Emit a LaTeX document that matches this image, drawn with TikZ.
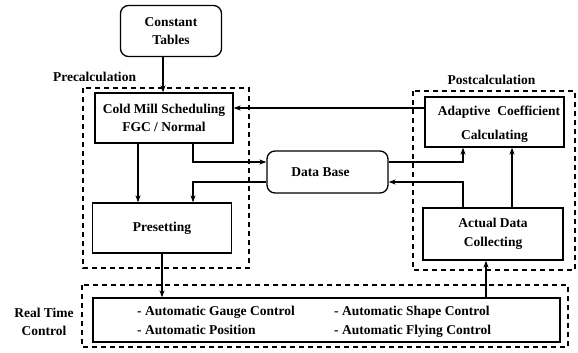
\documentclass[tikz,border=0pt]{standalone}
\usepackage{fontspec}
\setmainfont{Liberation Serif}
\usetikzlibrary{arrows.meta,calc}
\begin{document}
\begin{tikzpicture}[x=1pt,y=-1pt,
  txt/.style={font=\fontsize{13.5}{18.5}\selectfont\bfseries, inner sep=0pt},
  block/.style={txt, draw, line width=1.3pt, align=center},
  rblock/.style={block, rounded corners=8pt},
  group/.style={draw, line width=1.1pt, dash pattern=on 5pt off 4pt},
  arr/.style={line width=1.1pt, -{Stealth[length=7pt,width=5pt]}},
  lbl/.style={txt, align=center},
  item/.style={txt, anchor=west, text height=9.5pt, text depth=3pt}]
\useasboundingbox (0,0) rectangle (578,353);

% dashed groups
\draw[group] (83,88) rectangle (249,268);
\draw[group] (413,91) rectangle (575,270);
\draw[group] (82,285) rectangle (568,347);

% group labels
\node[lbl] (prelbl) at (94.5,77) {Precalculation};
\node[lbl] (postlbl) at (491.5,80) {Postcalculation};
\node[lbl] (rtlbl) at (44,322) {Real Time\\Control};

% blocks
\node[rblock, minimum width=101pt, minimum height=51pt] (const) at (171,31) {Constant\\Tables};
\node[block, minimum width=138pt, minimum height=50pt] (coldmill) at (164,118) {Cold Mill Scheduling\\FGC / Normal};
\node[block, minimum width=139pt, minimum height=50pt] (preset) at (162,228) {Presetting};
\node[rblock, minimum width=121pt, minimum height=42pt] (database) at (327.5,172) {\hspace*{-14pt}Data Base};
\node[block, minimum width=139pt, minimum height=50pt] (adaptive) at (494.5,122) {};
\node[txt] (adtext) at (499,112) {Adaptive\hspace{7pt}Coefficient};
\node[txt] (caltext) at (494.5,136) {Calculating};
\node[block, minimum width=140pt, minimum height=52pt] (actual) at (493,234) {Actual Data\\Collecting};
\node[block, minimum width=467pt, minimum height=44pt] (rtbox) at (326.5,320) {};
\node[item] (agc) at (137,312) {- Automatic Gauge Control};
\node[item] (apos) at (137,331) {- Automatic Position};
\node[item] (asc) at (334,312) {- Automatic Shape Control};
\node[item] (afc) at (334,331) {- Automatic Flying Control};

% routing positions
\coordinate (xc) at (163,0);
\coordinate (xa) at (138,0);
\coordinate (xb) at (193,0);
\coordinate (xd) at (463,0);
\coordinate (xe) at (512,0);
\coordinate (xf) at (486,0);
\coordinate (ya) at (0,162);
\coordinate (yb) at (0,182);
\coordinate (yc) at (0,108);

% connectors
\draw[arr] (const.south -| xc) -- (coldmill.north -| xc);
\draw[arr] (coldmill.south -| xa) -- (preset.north -| xa);
\draw[arr] (coldmill.south -| xb) |- (database.west |- ya);
\draw[arr] (database.west |- yb) -| (preset.north -| xb);
\draw[arr] (database.east |- ya) -| (adaptive.south -| xd);
\draw[arr] (actual.north -| xd) |- (database.east |- yb);
\draw[arr] (actual.north -| xe) -- (adaptive.south -| xe);
\draw[arr] (adaptive.west |- yc) -- (coldmill.east |- yc);
\draw[arr] (preset.south) -- (rtbox.north -| preset.south);
\draw[arr] (rtbox.north -| xf) -- (actual.south -| xf);
\end{tikzpicture}
\end{document}
